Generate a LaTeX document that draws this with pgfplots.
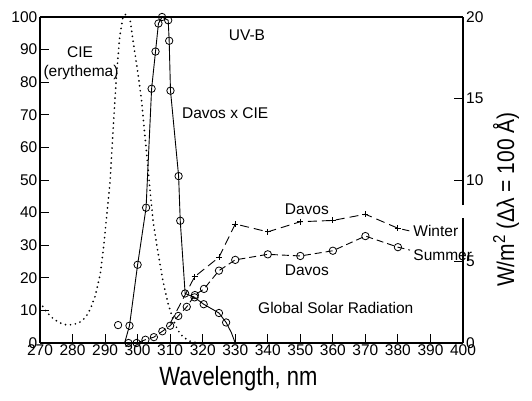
\documentclass[border=0pt]{standalone}
\usepackage{pgfplots}
\pgfplotsset{compat=1.18}
\usepackage{fontspec}
\setmainfont{Liberation Sans}

\begin{document}
\begin{tikzpicture}
\pgfplotsset{
  every axis/.append style={
    width=423pt, height=326pt, scale only axis,
    xmin=270, xmax=400, clip=false,
    tick align=inside, major tick length=9pt,
    tick style={line width=0.9pt, black},
    axis line style={line width=1.2pt},
    ticklabel style={font=\fontsize{15.5}{17}\selectfont},
    /pgf/number format/assume math mode=true,
  },
  opencirc/.style={mark=o, mark size=3.7pt, mark options={solid, fill=white, line width=0.8pt}},
}
% relative spectra (left scale)
\begin{axis}[name=ax,
  ymin=0, ymax=100,
  axis x line*=box, axis y line*=left,
  xtick={270,280,...,400}, ytick={0,10,...,100},
  xtick pos=bottom, ytick pos=left,
  x tick label style={inner ysep=1.5pt},
  y tick label style={inner xsep=2.5pt},
  xlabel={\scalebox{1}[1.2]{Wavelength, nm}},
  xlabel style={font=\fontsize{22}{24}\selectfont, at={(ticklabel cs:0.469)}, anchor=north, yshift=-6pt},
]
% CIE erythema action spectrum
\addplot[black, line width=1.9pt, line cap=round, dash pattern=on 0pt off 5pt] coordinates {
(270,12.5)(272,9.5)(274,7.5)(276,6.2)(278,5.6)(280,5.6)(282,6.2)(284,7.8)
(285.5,10.5)(287,14.5)(288.5,21)(289.5,29)(290.5,39)(291.5,49)(292.5,66)
(293.5,82)(294.5,94)(295.5,100)(296.5,101)(297.7,99)(299,90)(300.2,82)
(301.2,74.5)(302,66)(302.8,58)(303.8,47)(304.8,37)(306.3,27.5)(307.8,19)
(309.3,12.3)(310.8,7.5)(312.3,4)(314,1.8)(316,0.6)(318,0.1)(320,0)};
% Davos x CIE
\addplot[black, line width=0.9pt, opencirc, mark indices={2,...,18}] coordinates {
(296,0)(297.5,5.3)(300,24)(302.6,41.5)(304.3,78)(305.5,89.4)(306.4,98)
(307.5,100)(309.4,99)(309.7,92.7)(310.1,77.4)(312.6,51.2)(313.1,37.5)
(314.6,15.2)(317.5,14)(320.3,11.9)(325,9.2)(327.2,6.3)(328.8,3.2)(330,0)};
\addplot[only marks, opencirc] coordinates {(294,5.5)};
% annotations
\node[font=\fontsize{15.5}{17}\selectfont] at (axis cs:282.3,89.3) {CIE};
\node[font=\fontsize{15.5}{17}\selectfont] at (axis cs:282.6,83.1) {(erythema)};
\node[font=\fontsize{15.5}{17}\selectfont] at (axis cs:333.6,94.5) {UV-B};
\node[font=\fontsize{15.5}{17}\selectfont, anchor=west, inner sep=0pt] at (axis cs:313.6,70.6) {Davos x CIE};
\node[font=\fontsize{15.5}{17}\selectfont] at (axis cs:352,41) {Davos};
\node[font=\fontsize{15.5}{17}\selectfont, anchor=west, inner sep=0pt] at (axis cs:384.7,34.4) {Winter};
\node[font=\fontsize{15.5}{17}\selectfont, anchor=west, inner sep=0pt] at (axis cs:384.7,27) {Summer};
\node[font=\fontsize{15.5}{17}\selectfont] at (axis cs:352,22.4) {Davos};
\node[font=\fontsize{15.5}{17}\selectfont, anchor=west, inner sep=0pt] at (axis cs:337,10.7) {Global Solar Radiation};
\end{axis}

% global solar radiation at Davos (right scale, W/m^2 per 100 A)
\begin{axis}[
  ymin=0, ymax=20,
  axis x line=none, axis y line*=right,
  y axis line style={draw=none},
  ytick={0,5,...,20},
  y tick label style={inner xsep=3pt},
  ylabel={\scalebox{1}[1.15]{W/m\raisebox{0.7ex}{\fontsize{15}{15}\selectfont 2} (Δλ = 100 Å)}},
  ylabel style={font=\fontsize{21}{23}\selectfont, at={(ticklabel cs:0.44)}, anchor=north, yshift=-3pt},
]
\draw[line width=1.2pt] (rel axis cs:1,0) -- (rel axis cs:1,0.383);
\draw[line width=1.2pt] (rel axis cs:1,0.423) -- (rel axis cs:1,1);
% Winter
\addplot[black, line width=0.9pt, dash pattern=on 9pt off 5pt, mark=+, mark size=3pt,
  mark options={solid}, mark indices={2,...,9}] coordinates {
(310,1.2)(317.5,4.06)(325,5.26)(330,7.3)(340,6.82)(350,7.44)(360,7.52)(370,7.9)(380,7.04)(383.5,6.88)};
% Summer
\addplot[black, line width=0.9pt, dash pattern=on 7pt off 4pt, opencirc, mark indices={1,...,17}] coordinates {
(297.2,0)(299.7,0)(302.4,0.2)(305,0.36)(307.6,0.72)(310,1.06)(312.5,1.66)(315.1,2.22)
(317.6,2.94)(320.4,3.32)(325,4.44)(330,5.1)(340,5.44)(350,5.34)(360,5.66)(370,6.56)(380,5.88)(383.7,5.7)};
\end{axis}
\pgfresetboundingbox
\path ([shift={(-40pt,-57pt)}]ax.south west) rectangle ([shift={(69pt,17pt)}]ax.north east);
\end{tikzpicture}
\end{document}
